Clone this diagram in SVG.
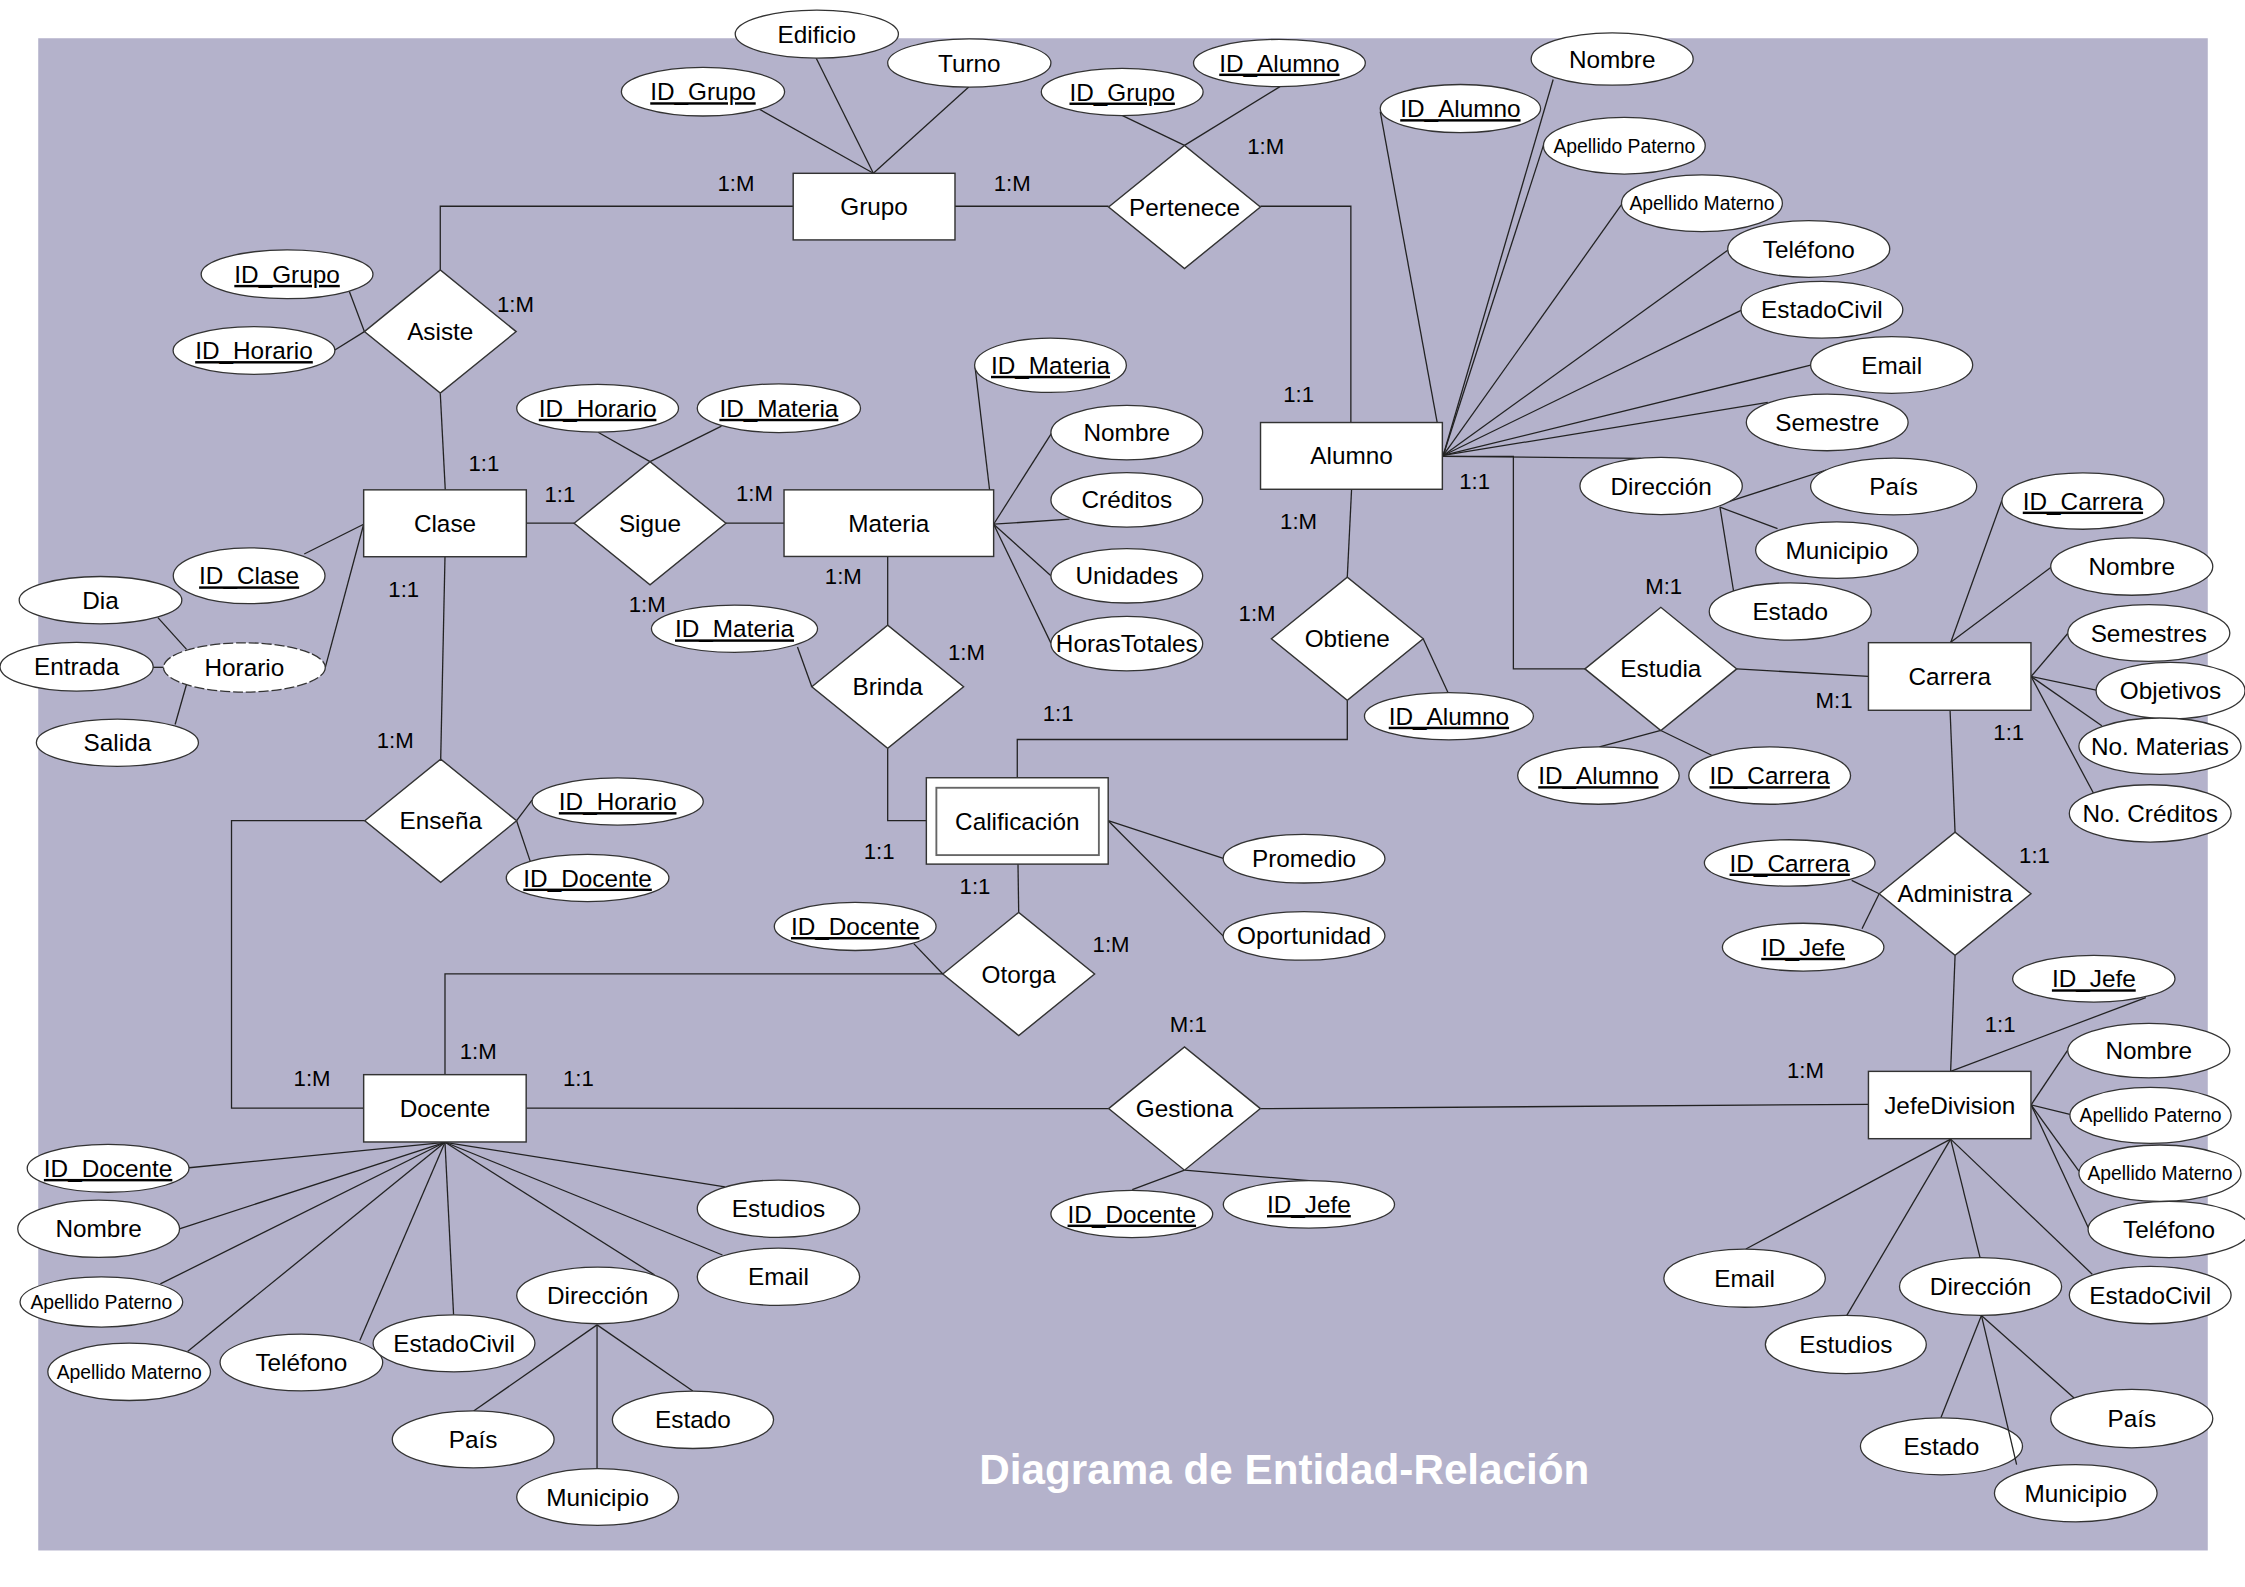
<svg xmlns="http://www.w3.org/2000/svg" width="2245" height="1587" viewBox="0 0 2245 1587">
<style>
.e{fill:#fff;stroke:#333;stroke-width:1}
.a{fill:#fff;stroke:#333;stroke-width:0.9}
.h{fill:#fff;stroke:#333;stroke-width:0.9;stroke-dasharray:7 2}
.c{stroke:#222;stroke-width:0.9;fill:none}
text{font-family:"Liberation Sans",Arial,sans-serif;font-size:17px;text-anchor:middle;fill:#000}
.k{text-decoration:underline}
.s{font-size:13.5px}
.n{font-size:15.5px}
.ti{font-size:29.5px;font-weight:bold;fill:#fff;text-anchor:start}
</style>
<rect width="2245" height="1587" fill="#fff"/>
<g transform="scale(1.43176 1.43231)">
<rect x="26.7" y="26.7" width="1515.3" height="1055.8" fill="#b4b2cb"/>
<g id="connectors">
<line class="c" x1="610" y1="121" x2="530" y2="76"/>
<line class="c" x1="610" y1="121" x2="570" y2="40.5"/>
<line class="c" x1="610" y1="121" x2="676.6" y2="60.7"/>
<line class="c" x1="667" y1="144" x2="774.3" y2="144"/>
<line class="c" x1="784" y1="80.7" x2="827.3" y2="101.5"/>
<line class="c" x1="894" y1="60.5" x2="827.3" y2="101.5"/>
<polyline class="c" points="880.3,144 943.5,144 943.5,295"/>
<polyline class="c" points="554,144 307.5,144 307.5,188.5"/>
<line class="c" x1="244" y1="203.5" x2="254.5" y2="231.5"/>
<line class="c" x1="233.9" y1="244.4" x2="254.5" y2="231.5"/>
<line class="c" x1="307.5" y1="274.5" x2="311" y2="342"/>
<line class="c" x1="367.6" y1="365.3" x2="401" y2="365.3"/>
<line class="c" x1="507" y1="365.3" x2="547.6" y2="365.3"/>
<line class="c" x1="417.7" y1="301.8" x2="454" y2="322.3"/>
<line class="c" x1="503.9" y1="297.5" x2="454" y2="322.3"/>
<line class="c" x1="681" y1="256" x2="694" y2="366"/>
<line class="c" x1="734.7" y1="302" x2="694" y2="366"/>
<line class="c" x1="747" y1="362.5" x2="694" y2="366"/>
<line class="c" x1="734" y1="402" x2="694" y2="366"/>
<line class="c" x1="734" y1="449" x2="694" y2="366"/>
<line class="c" x1="620" y1="388.5" x2="620" y2="436.5"/>
<line class="c" x1="557" y1="451.7" x2="567" y2="479.5"/>
<polyline class="c" points="620,522.5 620,573 654,573"/>
<line class="c" x1="944" y1="341.6" x2="941" y2="403"/>
<polyline class="c" points="941,489 941,516.3 710.5,516.3 710.5,543"/>
<line class="c" x1="994" y1="446" x2="1011.4" y2="483.6"/>
<line class="c" x1="774" y1="573" x2="854.4" y2="599.3"/>
<line class="c" x1="774" y1="573" x2="854.4" y2="653.6"/>
<line class="c" x1="711" y1="603" x2="711.5" y2="637"/>
<line class="c" x1="638.2" y1="658.8" x2="658.5" y2="680"/>
<polyline class="c" points="658.5,680 310.8,680 310.8,750.3"/>
<line class="c" x1="310.8" y1="388.7" x2="307.8" y2="530"/>
<polyline class="c" points="254.8,573 161.7,573 161.7,773.7 254,773.7"/>
<line class="c" x1="360.8" y1="573" x2="371.6" y2="558.7"/>
<line class="c" x1="360.8" y1="573" x2="370.3" y2="601.2"/>
<line class="c" x1="212.5" y1="386.8" x2="254" y2="366"/>
<line class="c" x1="227.2" y1="465.9" x2="254" y2="366"/>
<line class="c" x1="110.3" y1="431.2" x2="130.3" y2="453.4"/>
<line class="c" x1="106.9" y1="465.9" x2="114.3" y2="465.9"/>
<line class="c" x1="122.3" y1="505.8" x2="130.3" y2="477.7"/>
<line class="c" x1="964" y1="78" x2="1008" y2="318"/>
<line class="c" x1="1084.8" y1="55.5" x2="1008" y2="318"/>
<line class="c" x1="1078" y1="101.5" x2="1008" y2="318"/>
<line class="c" x1="1132.5" y1="142.9" x2="1008" y2="318"/>
<line class="c" x1="1206.7" y1="174.7" x2="1008" y2="318"/>
<line class="c" x1="1216" y1="216.7" x2="1008" y2="318"/>
<line class="c" x1="1264.6" y1="255" x2="1008" y2="318"/>
<line class="c" x1="1234.7" y1="281" x2="1008" y2="318"/>
<line class="c" x1="1007" y1="318.6" x2="1146" y2="320"/>
<line class="c" x1="1207.4" y1="350.2" x2="1275.5" y2="328.2"/>
<line class="c" x1="1201.3" y1="354.1" x2="1241.5" y2="369.1"/>
<line class="c" x1="1201.3" y1="354.1" x2="1210.8" y2="412.8"/>
<polyline class="c" points="1007,318.7 1057,318.7 1057,467 1107,467"/>
<line class="c" x1="1213" y1="467" x2="1305" y2="472.3"/>
<line class="c" x1="1160" y1="510" x2="1117.1" y2="521.4"/>
<line class="c" x1="1160" y1="510" x2="1195.5" y2="527.3"/>
<line class="c" x1="1398.2" y1="349.4" x2="1362.4" y2="448.7"/>
<line class="c" x1="1432.3" y1="396.2" x2="1362" y2="448.7"/>
<line class="c" x1="1444.2" y1="442.3" x2="1418.6" y2="472.3"/>
<line class="c" x1="1464" y1="481.9" x2="1418.6" y2="472.3"/>
<line class="c" x1="1468" y1="506.7" x2="1418.6" y2="472.3"/>
<line class="c" x1="1462.3" y1="554" x2="1418.6" y2="472.3"/>
<line class="c" x1="1362" y1="495.9" x2="1365.5" y2="581"/>
<line class="c" x1="1293.3" y1="614.6" x2="1312.5" y2="624"/>
<line class="c" x1="1300.5" y1="648.4" x2="1312.5" y2="624"/>
<line class="c" x1="1365.5" y1="667" x2="1362.4" y2="748"/>
<line class="c" x1="1498.7" y1="696.5" x2="1362.4" y2="748"/>
<line class="c" x1="1418.6" y1="771.4" x2="1444.2" y2="733.2"/>
<line class="c" x1="1418.6" y1="771.4" x2="1445.7" y2="778"/>
<line class="c" x1="1418.6" y1="771.4" x2="1452" y2="817.7"/>
<line class="c" x1="1418.6" y1="771.4" x2="1458.9" y2="857.9"/>
<line class="c" x1="1362.4" y1="795.3" x2="1461.3" y2="889.6"/>
<line class="c" x1="1362.4" y1="795.3" x2="1219.4" y2="872"/>
<line class="c" x1="1362.4" y1="795.3" x2="1289.9" y2="918.4"/>
<line class="c" x1="1362.4" y1="795.3" x2="1382.9" y2="877.9"/>
<line class="c" x1="1383.9" y1="918.4" x2="1355.6" y2="989.9"/>
<line class="c" x1="1383.9" y1="918.4" x2="1448.6" y2="976.1"/>
<line class="c" x1="367.6" y1="773.7" x2="774.3" y2="774"/>
<line class="c" x1="880.3" y1="774" x2="1305" y2="771"/>
<line class="c" x1="827.3" y1="817" x2="790.8" y2="830.6"/>
<line class="c" x1="827.3" y1="817" x2="914.5" y2="824.3"/>
<line class="c" x1="310.8" y1="797.5" x2="132" y2="815.3"/>
<line class="c" x1="310.8" y1="797.5" x2="125.3" y2="857.9"/>
<line class="c" x1="310.8" y1="797.5" x2="112" y2="896.4"/>
<line class="c" x1="310.8" y1="797.5" x2="131" y2="943.6"/>
<line class="c" x1="310.8" y1="797.5" x2="251.3" y2="935.9"/>
<line class="c" x1="310.8" y1="797.5" x2="316.8" y2="918"/>
<line class="c" x1="310.8" y1="797.5" x2="457.1" y2="890.1"/>
<line class="c" x1="310.8" y1="797.5" x2="506.3" y2="828.7"/>
<line class="c" x1="310.8" y1="797.5" x2="504.6" y2="876.2"/>
<line class="c" x1="417" y1="925" x2="330.8" y2="985.1"/>
<line class="c" x1="417" y1="925" x2="417" y2="1025.5"/>
<line class="c" x1="417" y1="925" x2="483.9" y2="971.2"/>
</g>
<g id="entities">
<g id="grupo"><rect class="e" x="554" y="121" width="113" height="46.5"/><text x="610.5" y="150.3">Grupo</text></g>
<g id="clase"><rect class="e" x="254" y="342" width="113.6" height="46.7"/><text x="310.8" y="371.3">Clase</text></g>
<g id="materia"><rect class="e" x="547.6" y="342" width="146.4" height="46.5"/><text x="620.8" y="371.3">Materia</text></g>
<g id="alumno"><rect class="e" x="880.4" y="295" width="127" height="46.6"/><text x="944" y="324.3">Alumno</text></g>
<g id="carrera"><rect class="e" x="1305" y="448.7" width="113.5" height="47.2"/><text x="1361.8" y="478.3">Carrera</text></g>
<g id="calificacion"><rect class="e" x="647" y="543" width="127" height="60.3"/><rect x="654" y="550" width="113.5" height="47" fill="#fff" stroke="#666" stroke-width="1.3"/><text x="710.5" y="579.2">Calificación</text></g>
<g id="docente"><rect class="e" x="254" y="750.3" width="113.5" height="47"/><text x="310.8" y="779.8">Docente</text></g>
<g id="jefedivision"><rect class="e" x="1305" y="748" width="113.5" height="47"/><text x="1361.8" y="777.5">JefeDivision</text></g>
</g>
<g id="relationships">
<g id="asiste"><polygon class="e" points="254.5,231.5 307.5,188.5 360.5,231.5 307.5,274.5"/><text x="307.5" y="237.5">Asiste</text></g>
<g id="pertenece"><polygon class="e" points="774.3,144.5 827.3,101.5 880.3,144.5 827.3,187.5"/><text x="827.3" y="150.5">Pertenece</text></g>
<g id="sigue"><polygon class="e" points="401,365.3 454,322.3 507,365.3 454,408.3"/><text x="454" y="371.3">Sigue</text></g>
<g id="brinda"><polygon class="e" points="567,479.5 620,436.5 673,479.5 620,522.5"/><text x="620" y="485.5">Brinda</text></g>
<g id="obtiene"><polygon class="e" points="888,446 941,403 994,446 941,489"/><text x="941" y="452">Obtiene</text></g>
<g id="ensena"><polygon class="e" points="254.8,573 307.8,530 360.8,573 307.8,616"/><text x="307.8" y="579">Enseña</text></g>
<g id="otorga"><polygon class="e" points="658.5,680 711.5,637 764.5,680 711.5,723"/><text x="711.5" y="686">Otorga</text></g>
<g id="gestiona"><polygon class="e" points="774.3,774 827.3,731 880.3,774 827.3,817"/><text x="827.3" y="780">Gestiona</text></g>
<g id="estudia"><polygon class="e" points="1107,467 1160,424 1213,467 1160,510"/><text x="1160" y="473">Estudia</text></g>
<g id="administra"><polygon class="e" points="1312.5,624 1365.5,581 1418.5,624 1365.5,667"/><text x="1365.5" y="630">Administra</text></g>
</g>
<g id="attributes">
<g id="grupo-id"><ellipse class="a" cx="491" cy="64" rx="57" ry="17"/><text class="k" x="491" y="70">ID_Grupo</text></g>
<g id="grupo-edificio"><ellipse class="a" cx="570.5" cy="23.8" rx="57" ry="16.8"/><text x="570.5" y="29.8">Edificio</text></g>
<g id="grupo-turno"><ellipse class="a" cx="677" cy="44" rx="57" ry="16.8"/><text x="677" y="50">Turno</text></g>
<g id="pertenece-idgrupo"><ellipse class="a" cx="783.8" cy="64.2" rx="56.5" ry="16.5"/><text class="k" x="783.8" y="70.2">ID_Grupo</text></g>
<g id="pertenece-idalumno"><ellipse class="a" cx="893.6" cy="44" rx="60" ry="16.5"/><text class="k" x="893.6" y="50">ID_Alumno</text></g>
<g id="asiste-idgrupo"><ellipse class="a" cx="200.5" cy="191.5" rx="60" ry="17"/><text class="k" x="200.5" y="197.5">ID_Grupo</text></g>
<g id="asiste-idhorario"><ellipse class="a" cx="177.4" cy="244.7" rx="56.5" ry="16.7"/><text class="k" x="177.4" y="250.7">ID_Horario</text></g>
<g id="sigue-idhorario"><ellipse class="a" cx="417.4" cy="285" rx="56.5" ry="16.7"/><text class="k" x="417.4" y="291">ID_Horario</text></g>
<g id="sigue-idmateria"><ellipse class="a" cx="544" cy="285" rx="57" ry="17"/><text class="k" x="544" y="291">ID_Materia</text></g>
<g id="materia-id"><ellipse class="a" cx="733.7" cy="255" rx="53" ry="19"/><text class="k" x="733.7" y="261">ID_Materia</text></g>
<g id="materia-nombre"><ellipse class="a" cx="787" cy="302" rx="53" ry="19"/><text x="787" y="308">Nombre</text></g>
<g id="materia-creditos"><ellipse class="a" cx="787" cy="349" rx="53" ry="19"/><text x="787" y="355">Créditos</text></g>
<g id="materia-unidades"><ellipse class="a" cx="787" cy="402" rx="53" ry="19"/><text x="787" y="408">Unidades</text></g>
<g id="materia-horas"><ellipse class="a" cx="787" cy="449.4" rx="53" ry="19"/><text x="787" y="455.4">HorasTotales</text></g>
<g id="brinda-idmateria"><ellipse class="a" cx="513" cy="439" rx="58" ry="16.5"/><text class="k" x="513" y="445">ID_Materia</text></g>
<g id="clase-id"><ellipse class="a" cx="174" cy="402" rx="53" ry="19.5"/><text class="k" x="174" y="408">ID_Clase</text></g>
<g id="horario"><ellipse class="h" cx="170.7" cy="466" rx="56.5" ry="17.2"/><text x="170.7" y="472">Horario</text></g>
<g id="horario-dia"><ellipse class="a" cx="70.2" cy="419" rx="56.8" ry="16.5"/><text x="70.2" y="425">Dia</text></g>
<g id="horario-entrada"><ellipse class="a" cx="53.5" cy="465.5" rx="53.5" ry="17"/><text x="53.5" y="471.5">Entrada</text></g>
<g id="horario-salida"><ellipse class="a" cx="82" cy="518.5" rx="56.6" ry="16.5"/><text x="82" y="524.5">Salida</text></g>
<g id="obtiene-idalumno"><ellipse class="a" cx="1012" cy="500" rx="59" ry="16.5"/><text class="k" x="1012" y="506">ID_Alumno</text></g>
<g id="calif-promedio"><ellipse class="a" cx="910.8" cy="599.5" rx="56.5" ry="17"/><text x="910.8" y="605.5">Promedio</text></g>
<g id="calif-oportunidad"><ellipse class="a" cx="910.8" cy="653.4" rx="56.5" ry="17"/><text x="910.8" y="659.4">Oportunidad</text></g>
<g id="otorga-iddocente"><ellipse class="a" cx="597.3" cy="646.8" rx="56.5" ry="16.8"/><text class="k" x="597.3" y="652.8">ID_Docente</text></g>
<g id="ensena-idhorario"><ellipse class="a" cx="431.4" cy="559.6" rx="59.8" ry="16.5"/><text class="k" x="431.4" y="565.6">ID_Horario</text></g>
<g id="ensena-iddocente"><ellipse class="a" cx="410.4" cy="613" rx="56.8" ry="16.5"/><text class="k" x="410.4" y="619">ID_Docente</text></g>
<g id="alumno-id"><ellipse class="a" cx="1020" cy="75.8" rx="56" ry="16.8"/><text class="k" x="1020" y="81.8">ID_Alumno</text></g>
<g id="alumno-nombre"><ellipse class="a" cx="1126" cy="41.2" rx="56.6" ry="18.3"/><text x="1126" y="47.2">Nombre</text></g>
<g id="alumno-apaterno"><ellipse class="a" cx="1134.5" cy="101.7" rx="56.5" ry="19.8"/><text class="s" x="1134.5" y="106.5">Apellido Paterno</text></g>
<g id="alumno-amaterno"><ellipse class="a" cx="1188.7" cy="141.9" rx="56.2" ry="19.8"/><text class="s" x="1188.7" y="146.7">Apellido Materno</text></g>
<g id="alumno-telefono"><ellipse class="a" cx="1263.3" cy="173.8" rx="56.6" ry="19.8"/><text x="1263.3" y="179.8">Teléfono</text></g>
<g id="alumno-estadocivil"><ellipse class="a" cx="1272.5" cy="216.3" rx="56.5" ry="19.8"/><text x="1272.5" y="222.3">EstadoCivil</text></g>
<g id="alumno-email"><ellipse class="a" cx="1321.2" cy="254.8" rx="56.6" ry="19.8"/><text x="1321.2" y="260.8">Email</text></g>
<g id="alumno-semestre"><ellipse class="a" cx="1276.2" cy="294.9" rx="56.5" ry="19.8"/><text x="1276.2" y="300.9">Semestre</text></g>
<g id="alumno-direccion"><ellipse class="a" cx="1160.2" cy="339.3" rx="56.7" ry="20"/><text x="1160.2" y="345.3">Dirección</text></g>
<g id="alumno-pais"><ellipse class="a" cx="1322.6" cy="339.7" rx="58" ry="19.8"/><text x="1322.6" y="345.7">País</text></g>
<g id="alumno-municipio"><ellipse class="a" cx="1282.9" cy="384.1" rx="56.7" ry="19.7"/><text x="1282.9" y="390.1">Municipio</text></g>
<g id="alumno-estado"><ellipse class="a" cx="1250.4" cy="426.9" rx="56.6" ry="20"/><text x="1250.4" y="432.9">Estado</text></g>
<g id="estudia-idalumno"><ellipse class="a" cx="1116.4" cy="541.5" rx="56.4" ry="20"/><text class="k" x="1116.4" y="547.5">ID_Alumno</text></g>
<g id="estudia-idcarrera"><ellipse class="a" cx="1236" cy="541.5" rx="56.5" ry="20"/><text class="k" x="1236" y="547.5">ID_Carrera</text></g>
<g id="carrera-id"><ellipse class="a" cx="1454.8" cy="349.8" rx="56.6" ry="19.7"/><text class="k" x="1454.8" y="355.8">ID_Carrera</text></g>
<g id="carrera-nombre"><ellipse class="a" cx="1488.9" cy="395.6" rx="56.6" ry="20"/><text x="1488.9" y="401.6">Nombre</text></g>
<g id="carrera-semestres"><ellipse class="a" cx="1500.8" cy="442" rx="56.6" ry="19.8"/><text x="1500.8" y="448">Semestres</text></g>
<g id="carrera-objetivos"><ellipse class="a" cx="1516" cy="482.2" rx="52" ry="19.8"/><text x="1516" y="488.2">Objetivos</text></g>
<g id="carrera-nomaterias"><ellipse class="a" cx="1508.6" cy="521" rx="56.6" ry="19.7"/><text x="1508.6" y="527">No. Materias</text></g>
<g id="carrera-nocreditos"><ellipse class="a" cx="1501.8" cy="567.9" rx="56.5" ry="20"/><text x="1501.8" y="573.9">No. Créditos</text></g>
<g id="administra-idcarrera"><ellipse class="a" cx="1250" cy="602.5" rx="59.6" ry="16.2"/><text class="k" x="1250" y="608.5">ID_Carrera</text></g>
<g id="administra-idjefe"><ellipse class="a" cx="1259.4" cy="661.3" rx="56.4" ry="16.7"/><text class="k" x="1259.4" y="667.3">ID_Jefe</text></g>
<g id="jefe-id"><ellipse class="a" cx="1462.4" cy="683.3" rx="56.7" ry="16.3"/><text class="k" x="1462.4" y="689.3">ID_Jefe</text></g>
<g id="jefe-nombre"><ellipse class="a" cx="1500.8" cy="733.5" rx="56.6" ry="19"/><text x="1500.8" y="739.5">Nombre</text></g>
<g id="jefe-apaterno"><ellipse class="a" cx="1502" cy="778.7" rx="56.3" ry="19.5"/><text class="s" x="1502" y="783.5">Apellido Paterno</text></g>
<g id="jefe-amaterno"><ellipse class="a" cx="1508.6" cy="819.1" rx="56.6" ry="19.7"/><text class="s" x="1508.6" y="823.9">Apellido Materno</text></g>
<g id="jefe-telefono"><ellipse class="a" cx="1515" cy="858.4" rx="56.6" ry="19.6"/><text x="1515" y="864.4">Teléfono</text></g>
<g id="jefe-estadocivil"><ellipse class="a" cx="1501.8" cy="904.2" rx="56.5" ry="20"/><text x="1501.8" y="910.2">EstadoCivil</text></g>
<g id="jefe-email"><ellipse class="a" cx="1218.5" cy="892.4" rx="56.4" ry="20.3"/><text x="1218.5" y="898.4">Email</text></g>
<g id="jefe-estudios"><ellipse class="a" cx="1289.2" cy="938.7" rx="56.2" ry="20.3"/><text x="1289.2" y="944.7">Estudios</text></g>
<g id="jefe-direccion"><ellipse class="a" cx="1383.3" cy="898.2" rx="56.6" ry="20.2"/><text x="1383.3" y="904.2">Dirección</text></g>
<g id="jefe-pais"><ellipse class="a" cx="1488.9" cy="990.4" rx="56.6" ry="20.4"/><text x="1488.9" y="996.4">País</text></g>
<g id="jefe-estado"><ellipse class="a" cx="1356" cy="1009.8" rx="56.6" ry="19.9"/><text x="1356" y="1015.8">Estado</text></g>
<g id="jefe-municipio"><ellipse class="a" cx="1449.8" cy="1042.5" rx="56.8" ry="20"/><text x="1449.8" y="1048.5">Municipio</text></g>
<g id="gestiona-iddocente"><ellipse class="a" cx="790.5" cy="847.6" rx="56.5" ry="16.5"/><text class="k" x="790.5" y="853.6">ID_Docente</text></g>
<g id="gestiona-idjefe"><ellipse class="a" cx="914.2" cy="840.9" rx="59.8" ry="16.6"/><text class="k" x="914.2" y="846.9">ID_Jefe</text></g>
<g id="docente-id"><ellipse class="a" cx="75.5" cy="815.7" rx="56.5" ry="16.7"/><text class="k" x="75.5" y="821.7">ID_Docente</text></g>
<g id="docente-nombre"><ellipse class="a" cx="68.9" cy="857.9" rx="56.5" ry="20"/><text x="68.9" y="863.9">Nombre</text></g>
<g id="docente-apaterno"><ellipse class="a" cx="70.8" cy="909" rx="56.8" ry="17.5"/><text class="s" x="70.8" y="913.8">Apellido Paterno</text></g>
<g id="docente-amaterno"><ellipse class="a" cx="90.2" cy="957.8" rx="56.8" ry="20"/><text class="s" x="90.2" y="962.6">Apellido Materno</text></g>
<g id="docente-telefono"><ellipse class="a" cx="210.5" cy="951.3" rx="56.8" ry="19.8"/><text x="210.5" y="957.3">Teléfono</text></g>
<g id="docente-estadocivil"><ellipse class="a" cx="317.1" cy="937.9" rx="56.5" ry="19.9"/><text x="317.1" y="943.9">EstadoCivil</text></g>
<g id="docente-direccion"><ellipse class="a" cx="417.4" cy="904.4" rx="56.5" ry="19.8"/><text x="417.4" y="910.4">Dirección</text></g>
<g id="docente-pais"><ellipse class="a" cx="330.5" cy="1005" rx="56.5" ry="19.9"/><text x="330.5" y="1011">País</text></g>
<g id="docente-municipio"><ellipse class="a" cx="417.4" cy="1045.2" rx="56.5" ry="19.8"/><text x="417.4" y="1051.2">Municipio</text></g>
<g id="docente-estado"><ellipse class="a" cx="484" cy="991.3" rx="56.3" ry="20"/><text x="484" y="997.3">Estado</text></g>
<g id="docente-estudios"><ellipse class="a" cx="543.7" cy="843.9" rx="56.7" ry="20"/><text x="543.7" y="849.9">Estudios</text></g>
<g id="docente-email"><ellipse class="a" cx="543.7" cy="891.4" rx="56.7" ry="20"/><text x="543.7" y="897.4">Email</text></g>
</g>
<g id="connectors-over">
<line class="c" x1="1383.9" y1="918.4" x2="1408.5" y2="1022.6"/>
</g>
<g id="cardinalities">
<text class="n" x="514" y="133.5">1:M</text>
<text class="n" x="707" y="133.5">1:M</text>
<text class="n" x="884" y="107.5">1:M</text>
<text class="n" x="360" y="217.5">1:M</text>
<text class="n" x="338" y="328.5">1:1</text>
<text class="n" x="391" y="350.5">1:1</text>
<text class="n" x="527" y="349.5">1:M</text>
<text class="n" x="452" y="427.5">1:M</text>
<text class="n" x="907" y="280.5">1:1</text>
<text class="n" x="907" y="369.5">1:M</text>
<text class="n" x="1030" y="341.5">1:1</text>
<text class="n" x="589" y="407.5">1:M</text>
<text class="n" x="675" y="460.5">1:M</text>
<text class="n" x="878" y="433.5">1:M</text>
<text class="n" x="739" y="503.5">1:1</text>
<text class="n" x="282" y="416.5">1:1</text>
<text class="n" x="276" y="522.5">1:M</text>
<text class="n" x="614" y="599.5">1:1</text>
<text class="n" x="681" y="624.5">1:1</text>
<text class="n" x="776" y="664.5">1:M</text>
<text class="n" x="334" y="739.5">1:M</text>
<text class="n" x="218" y="758.5">1:M</text>
<text class="n" x="404" y="758.5">1:1</text>
<text class="n" x="830" y="720.5">M:1</text>
<text class="n" x="1162" y="414.5">M:1</text>
<text class="n" x="1281" y="494.5">M:1</text>
<text class="n" x="1403" y="516.5">1:1</text>
<text class="n" x="1421" y="602.5">1:1</text>
<text class="n" x="1397" y="720.5">1:1</text>
<text class="n" x="1261" y="752.5">1:M</text>
</g>
<text class="ti" x="684" y="1036">Diagrama de Entidad-Relación</text>
</g>
</svg>
